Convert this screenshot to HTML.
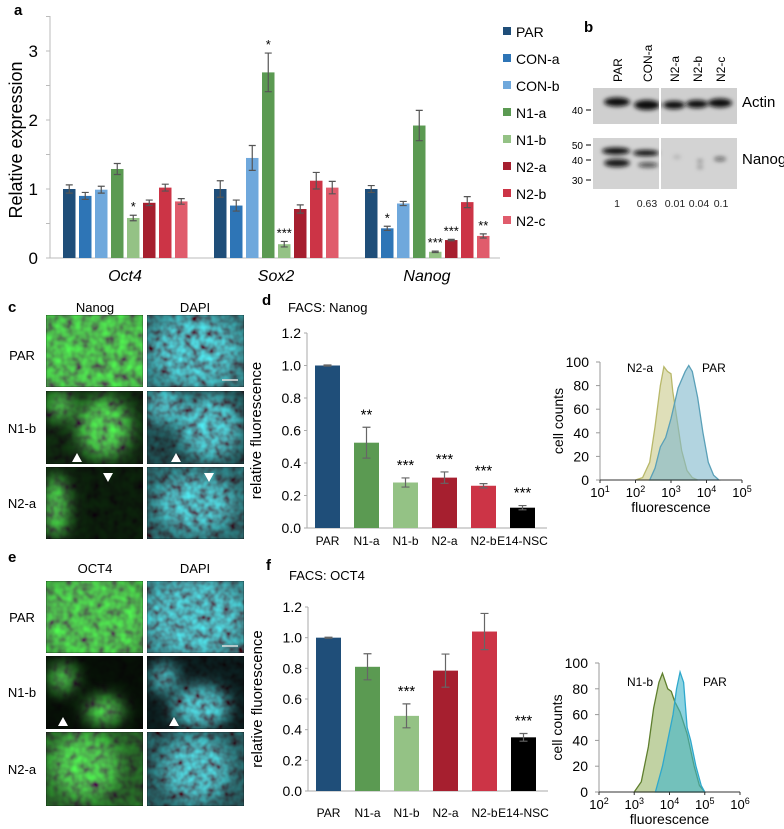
<!DOCTYPE html>
<html><head><meta charset="utf-8"><style>
html,body{margin:0;padding:0;background:#fff}
svg{display:block;font-family:"Liberation Sans",sans-serif}
</style></head><body>
<svg id="fig" width="784" height="829" viewBox="0 0 784 829" xmlns="http://www.w3.org/2000/svg">
<defs>
<filter id="fg" x="0" y="0" width="100%" height="100%"><feTurbulence type="fractalNoise" baseFrequency="0.11" numOctaves="2" seed="3"/><feColorMatrix type="matrix" values="0 0 0 0 0.08  1.35 0 0 0 -0.2  0 0 0 0 0.08  0 0 0 0 1"/><feGaussianBlur stdDeviation="0.6"/></filter>
<filter id="fc" x="0" y="0" width="100%" height="100%"><feTurbulence type="fractalNoise" baseFrequency="0.13" numOctaves="2" seed="7"/><feColorMatrix type="matrix" values="0 0 0 0 0.08  1.25 0 0 0 -0.22  1.3 0 0 0 -0.2  0 0 0 0 1"/><feGaussianBlur stdDeviation="0.6"/></filter>
<filter id="blur8" x="-100%" y="-100%" width="300%" height="300%"><feGaussianBlur stdDeviation="8"/></filter>
<filter id="blur2"><feGaussianBlur stdDeviation="2"/></filter>
</defs>
<g id="root"></g>
</svg>
<script>
// ---------- panel a data ----------
const aGenes = ['Oct4','Sox2','Nanog'];
const aLines = ['PAR','CON-a','CON-b','N1-a','N1-b','N2-a','N2-b','N2-c'];
const aOct4 = [1.0,0.9,0.99,1.29,0.58,0.8,1.02,0.82];
const aOct4Err = [0.06,0.05,0.05,0.08,0.04,0.04,0.05,0.04];
const aSox2 = [1.0,0.76,1.45,2.69,0.2,0.71,1.12,1.02];
const aSox2Err = [0.12,0.08,0.18,0.28,0.04,0.06,0.12,0.09];
const aNanog = [1.0,0.43,0.79,1.92,0.09,0.26,0.81,0.32];
const aNanogErr = [0.05,0.03,0.03,0.22,0.01,0.01,0.08,0.03];
const aOct4Sig = ['','','','','*','','',''];
const aSox2Sig = ['','','','*','***','','',''];
const aNanogSig = ['','*','','','***','***','','**'];
const aTicks = [0,1,2,3];
// ---------- panel d / f data ----------
const dfCats = ['PAR','N1-a','N1-b','N2-a','N2-b','E14-NSC'];
const dVals = [1.0,0.525,0.28,0.31,0.26,0.125];
const dErr = [0.003,0.095,0.028,0.035,0.013,0.013];
const dSig = ['','**','***','***','***','***'];
const fVals = [1.0,0.81,0.49,0.785,1.04,0.35];
const fErr = [0.003,0.085,0.078,0.108,0.118,0.025];
const fSig = ['','','***','','','***'];
const dfTicks = [0,0.2,0.4,0.6,0.8,1.0,1.2];
// ---------- histograms ----------
const hdN2aLog = [2.0,2.2,2.4,2.55,2.7,2.8,2.9,3.0,3.05,3.15,3.3,3.45,3.6,3.75];
const hdN2aCnt = [0,2,15,45,80,96,92,90,75,55,25,8,2,0];
const hdParLog = [2.4,2.55,2.7,2.85,3.0,3.2,3.4,3.5,3.6,3.75,3.9,4.05,4.2,4.35];
const hdParCnt = [0,10,28,36,52,78,92,97,92,70,40,15,4,0];
const hfN1bLog = [3.0,3.2,3.4,3.55,3.7,3.8,3.9,3.95,4.05,4.15,4.3,4.5,4.7,4.85,5.0];
const hfN1bCnt = [0,8,35,65,85,92,84,80,78,70,62,45,20,5,0];
const hfParLog = [3.6,3.8,3.95,4.1,4.2,4.3,4.4,4.5,4.6,4.75,4.9,5.0];
const hfParCnt = [0,20,40,60,80,93,85,50,40,20,5,0];
const hdTicks = [1,2,3,4,5];
const hfTicks = [2,3,4,5,6];
const hYTicks = [0,20,40,60,80,100];

const NS='http://www.w3.org/2000/svg';
const root=document.getElementById('root');
function mk(tag,attrs,parent){const e=document.createElementNS(NS,tag);for(const k in attrs)e.setAttribute(k,attrs[k]);(parent||root).appendChild(e);return e;}
function txt(s,x,y,size,opts,parent){opts=opts||{};const e=mk('text',{x:x,y:y,'font-size':size,fill:opts.fill||'#000','text-anchor':opts.anchor||'start'},parent);if(opts.weight)e.setAttribute('font-weight',opts.weight);if(opts.style)e.setAttribute('font-style',opts.style);if(opts.rot)e.setAttribute('transform','rotate('+opts.rot+' '+x+' '+y+')');e.textContent=s;return e;}

const colors=['#1f4e79','#2e75b6','#6fa8dc','#5b9a52','#94c285','#a61f2f','#cc3446','#e05c6c'];

// ---------- Panel a ----------
let t;
t=txt('a',14,15,15,{weight:'bold'});


const aY=v=>258-v*69;
let l=mk('line',{x1:50,y1:16,x2:50,y2:258,stroke:'#bbb','stroke-width':1});


l=mk('line',{x1:50,y1:258,x2:500,y2:258,stroke:'#bbb','stroke-width':1});


for(let v=0;v<=3.5;v+=0.5){const tk=mk('line',{x1:46,y1:aY(v),x2:50,y2:aY(v),stroke:'#bbb'});

}
aTicks.forEach(v=>{const e=txt(String(v),38,aY(v)+6,17,{anchor:'end'});

});
t=txt('Relative expression',22,140,18,{anchor:'middle',rot:-90});


const aSeries=[[aOct4,aOct4Err,aOct4Sig],[aSox2,aSox2Err,aSox2Sig],[aNanog,aNanogErr,aNanogSig]];
aSeries.forEach((s,g)=>{
  const x0=63+151*g;
  s[0].forEach((v,i)=>{
    const x=x0+16*i, w=12.5;
    const r=mk('rect',{x:x,y:aY(v),width:w,height:258-aY(v),fill:colors[i]});
    
    
    const cx=x+w/2, e=s[1][i];
    const eb=mk('path',{d:`M${cx},${aY(v+e)}V${aY(v-e)}M${cx-3.5},${aY(v+e)}H${cx+3.5}M${cx-3.5},${aY(v-e)}H${cx+3.5}`,stroke:'#555','stroke-width':1.2,fill:'none'});
    
    
    if(s[2][i]){const st=txt(s[2][i],cx,aY(v+e)-4,13,{anchor:'middle'});
    
    }
  });
  const gl=txt(aGenes[g],x0+62,281,16,{anchor:'middle',style:'italic'});
  
  
});
aLines.forEach((n,i)=>{
  const y=34+27*i;
  const sq=mk('rect',{x:503,y:y-7,width:8,height:8,fill:colors[i]});
  
  
  const lt=txt(n,516,y+3,14);
  
  
});

// ---------- Panel b (western blot) ----------
t=txt('b',584,32,15,{weight:'bold'});


const bLanes=['PAR','CON-a','N2-a','N2-b','N2-c'];
const bLaneX=[617,647,674,697,720];
const bQuantX=[617,647,675,699,721];
const bQuant=['1','0.63','0.01','0.04','0.1'];
bLanes.forEach((n,i)=>{const e=txt(n,bLaneX[i]+5,82,12,{rot:-90});


const q=txt(bQuant[i],bQuantX[i],207,10.5,{anchor:'middle',fill:'#222'});

});
let bx=mk('rect',{x:593,y:88,width:144,height:36,fill:'#cfcfcf'});


bx=mk('rect',{x:593,y:138,width:144,height:51,fill:'#d3d3d3'});


const bg=mk('g',{filter:'url(#blur2)'});


[[617,102,13,4.5],[647,105,13,5],[674,105,11,4],[697,104,11,4],[720,103,12,4.5]].forEach(b=>{const e=mk('ellipse',{cx:b[0],cy:b[1],rx:b[2],ry:b[3],fill:'#111'},bg);

});
[[616,151,14,3.5,1],[646,153,13,3,1],[617,163,13,4,0.95],[648,165,10,2.5,0.7],[720,159,6,2,0.6],[700,167,3,2,0.3],[700,161,3,1.5,0.4],[677,157,4,1.5,0.2]].forEach(b=>{const e=mk('ellipse',{cx:b[0],cy:b[1],rx:b[2],ry:b[3],fill:'#111',opacity:b[4]},bg);

});
l=mk('line',{x1:660,y1:88,x2:660,y2:189,stroke:'#fff','stroke-width':2});


[['40',110],['50',145],['40',160],['30',180]].forEach(m=>{const e=txt(m[0],583,m[1]+4,10,{anchor:'end'});


const k=mk('line',{x1:586,y1:m[1],x2:591,y2:m[1],stroke:'#000'});

});
t=txt('Actin',742,107,15);


t=txt('Nanog',742,164,15);



// ---------- Microscopy panels ----------
let maskId=0;
function tile(x,y,w,h,filt,dark,blobs,name){
  const g=mk('g',{});
  
  
  const cid='clip'+(maskId++);
  const cp=mk('clipPath',{id:cid},g);mk('rect',{x:x,y:y,width:w,height:h},cp);
  const inner=mk('g',{'clip-path':'url(#'+cid+')'},g);
  mk('rect',{x:x,y:y,width:w,height:h,fill:'#000'},inner);
  mk('rect',{x:x,y:y,width:w,height:h,filter:'url(#'+filt+')'},inner);
  const mid='mask'+(maskId++);
  const m=mk('mask',{id:mid,maskUnits:'userSpaceOnUse',x:x-20,y:y-20,width:w+40,height:h+40},g);
  mk('rect',{x:x-20,y:y-20,width:w+40,height:h+40,fill:'#fff'},m);
  const mg=mk('g',{filter:'url(#blur8)'},m);
  blobs.forEach(b=>mk('ellipse',{cx:x+b[0]*w,cy:y+b[1]*h,rx:b[2]*w,ry:b[3]*h,fill:'#000'},mg));
  mk('rect',{x:x,y:y,width:w,height:h,fill:'#000',opacity:dark,mask:'url(#'+mid+')'},inner);
  return g;
}
function arrow(x,y,up,name){const p=up?`M${x-5},${y+4}L${x+5},${y+4}L${x},${y-5}Z`:`M${x-5},${y-4}L${x+5},${y-4}L${x},${y+5}Z`;
const e=mk('path',{d:p,fill:'#fff'});

}
const tw=97;
// panel c
t=txt('c',8,312,15,{weight:'bold'});


t=txt('Nanog',95,312,13,{anchor:'middle'});


t=txt('DAPI',195,312,13,{anchor:'middle'});


tile(46,315,tw,72,'fg',0.1,[[0.5,0.5,0.6,0.6]],'nanog-par-image');
tile(147,315,tw,72,'fc',0.35,[[0.5,0.5,0.45,0.5]],'dapi-par-image');
tile(46,391,tw,73,'fg',0.8,[[0.15,0.2,0.14,0.2],[0.6,0.5,0.28,0.42]],'nanog-n1b-image');
tile(147,391,tw,73,'fc',0.6,[[0.18,0.2,0.2,0.25],[0.65,0.5,0.32,0.45]],'dapi-n1b-image');
tile(46,467,tw,72,'fg',0.85,[[0.1,0.55,0.13,0.45]],'nanog-n2a-image');
tile(147,467,tw,72,'fc',0.45,[[0.5,0.5,0.4,0.4]],'dapi-n2a-image');
l=mk('line',{x1:222,y1:380,x2:238,y2:380,stroke:'#ddd','stroke-width':1.5});


arrow(77,458,true,'arrowhead');arrow(176,458,true,'arrowhead');arrow(108,477,false,'arrowhead');arrow(209,477,false,'arrowhead');
[['PAR',355],['N1-b',428],['N2-a',503]].forEach(r=>{const e=txt(r[0],22,r[1]+5,13,{anchor:'middle'});

});
// panel e
t=txt('e',8,562,15,{weight:'bold'});


t=txt('OCT4',95,573,13,{anchor:'middle'});


t=txt('DAPI',195,573,13,{anchor:'middle'});


tile(46,581,tw,72,'fg',0.2,[[0.5,0.5,0.6,0.6]],'oct4-par-image');
tile(147,581,tw,72,'fc',0.3,[[0.5,0.5,0.5,0.55]],'dapi-par-image-e');
tile(46,656,tw,73,'fg',0.92,[[0.17,0.3,0.14,0.2],[0.6,0.75,0.2,0.2]],'oct4-n1b-image');
tile(147,656,tw,73,'fc',0.85,[[0.17,0.3,0.14,0.2],[0.55,0.7,0.3,0.3]],'dapi-n1b-image-e');
tile(46,732,tw,74,'fg',0.5,[[0.4,0.45,0.35,0.45]],'oct4-n2a-image');
tile(147,732,tw,74,'fc',0.5,[[0.5,0.5,0.35,0.45]],'dapi-n2a-image-e');
l=mk('line',{x1:222,y1:646,x2:238,y2:646,stroke:'#ddd','stroke-width':1.5});


arrow(63,722,true,'arrowhead');arrow(174,722,true,'arrowhead');
[['PAR',617],['N1-b',692],['N2-a',769]].forEach(r=>{const e=txt(r[0],22,r[1]+5,13,{anchor:'middle'});

});

// ---------- FACS bar charts ----------
function facs(prefix,label,title,lx,ly,tx,ty,ax,y0,y12,vals,errs,sig){
  t=txt(label,lx,ly,15,{weight:'bold'});
  
  
  t=txt(title,tx,ty,13);
  
  
  const Y=v=>y0-(y0-y12)*v/1.2;
  let a=mk('line',{x1:ax,y1:Y(1.2),x2:ax,y2:y0,stroke:'#aaa'});
  
  
  a=mk('line',{x1:ax,y1:y0,x2:ax+240,y2:y0,stroke:'#aaa'});
  
  
  dfTicks.forEach(v=>{const e=txt(v.toFixed(1),ax-6,Y(v)+5,14,{anchor:'end'});
  
  
  const k=mk('line',{x1:ax-3,y1:Y(v),x2:ax,y2:Y(v),stroke:'#aaa'});
  
  });
  t=txt('relative fluorescence',ax-46,(y0+Y(1.2))/2,15,{anchor:'middle',rot:-90});
  
  
  const fc=['#1f4e79','#5b9a52','#94c285','#a61f2f','#cc3446','#000'];
  vals.forEach((v,i)=>{
    const x=ax+8+39*i, w=25;
    const r=mk('rect',{x:x,y:Y(v),width:w,height:y0-Y(v),fill:fc[i]});
    
    
    const cx=x+w/2,e=errs[i];
    const eb=mk('path',{d:`M${cx},${Y(v+e)}V${Y(v-e)}M${cx-4},${Y(v+e)}H${cx+4}M${cx-4},${Y(v-e)}H${cx+4}`,stroke:'#666','stroke-width':1.2,fill:'none'});
    
    
    if(sig[i]){const s=txt(sig[i],cx,Y(v+e)-8,15,{anchor:'middle'});
    
    }
    const cl=txt(dfCats[i],cx,y0+(prefix==='f'?26:17),12,{anchor:'middle'});
    
    
  });
}
facs('d','d','FACS: Nanog',262,305,288,312,307,528,333,dVals,dErr,dSig);
facs('f','f','FACS: OCT4',266,570,289,580,308,791,607,fVals,fErr,fSig);

// ---------- Histograms ----------
function hist(prefix,ax,y0,y100,xEnd,ticks,series){
  const lo=ticks[0],hi=ticks[ticks.length-1];
  const X=v=>ax+(xEnd-ax)*(v-lo)/(hi-lo);
  const Y=c=>y0-(y0-y100)*c/100;
  series.forEach(s=>{
    let d=`M${X(s.xs[0])},${y0}`;
    s.xs.forEach((v,i)=>{d+=`L${X(v)},${Y(s.ys[i])}`});
    d+=`L${X(s.xs[s.xs.length-1])},${y0}Z`;
    const p=mk('path',{d:d,fill:s.fill,'fill-opacity':0.6,stroke:s.stroke,'stroke-width':1.3});
    
    
  });
  let a=mk('line',{x1:ax,y1:y100,x2:ax,y2:y0,stroke:'#999'});
  
  
  a=mk('line',{x1:ax,y1:y0,x2:xEnd,y2:y0,stroke:'#333'});
  
  
  hYTicks.forEach(c=>{const e=txt(String(c),ax-11,Y(c)+5,14,{anchor:'end'});
  
  
  const k=mk('line',{x1:ax-4,y1:Y(c),x2:ax,y2:Y(c),stroke:'#999'});
  
  });
  ticks.forEach(v=>{
    const g=mk('text',{x:X(v),y:y0+17,'font-size':13,'text-anchor':'middle'});
    
    
    g.textContent='10';
    const sp=mk('tspan',{dy:-5,'font-size':9},g);sp.textContent=String(v);
    const k=mk('line',{x1:X(v),y1:y0,x2:X(v),y2:y0+3,stroke:'#333'});
    
    
  });
  t=txt('fluorescence',(ax+xEnd)/2,y0+32,14,{anchor:'middle'});
  
  
  t=txt('cell counts',ax-37,(y0+y100)/2,14,{anchor:'middle',rot:-90});
  
  
  return X;
}
hist('d',600,480,362,742,hdTicks,[
  {name:'n2a',xs:hdN2aLog,ys:hdN2aCnt,fill:'#c9c98a',stroke:'#b8b86a'},
  {name:'par',xs:hdParLog,ys:hdParCnt,fill:'#7fb8cc',stroke:'#5aa0b8'}]);
t=txt('N2-a',627,372,12);


t=txt('PAR',702,372,12);


hist('f',599,792,663,740,hfTicks,[
  {name:'n1b',xs:hfN1bLog,ys:hfN1bCnt,fill:'#98b466',stroke:'#5f7f2e'},
  {name:'par',xs:hfParLog,ys:hfParCnt,fill:'#3fb6cc',stroke:'#2fa8cc'}]);
t=txt('N1-b',627,686,12);


t=txt('PAR',703,686,12);


</script>
</body></html>
